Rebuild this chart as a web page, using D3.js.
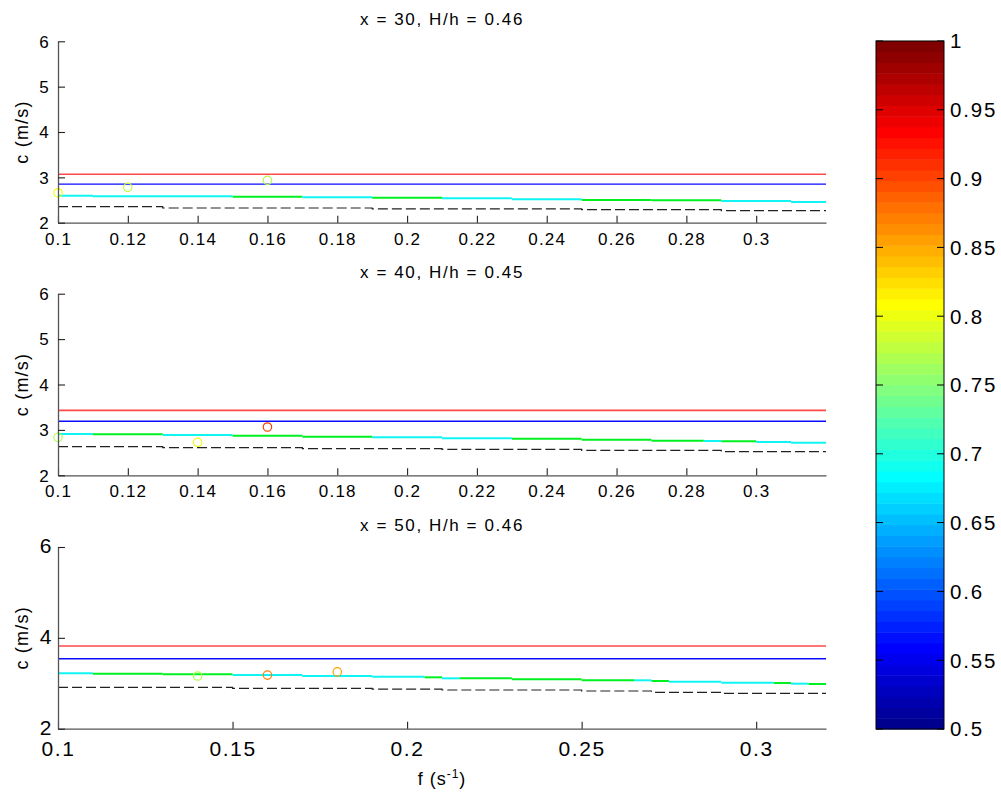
<!DOCTYPE html>
<html>
<head>
<meta charset="utf-8">
<script src="https://cdn.jsdelivr.net/npm/d3@7"></script>
<style>
  body { margin: 0; background: #fff; }
  svg text { font-family: "Liberation Sans", Arial, Helvetica, sans-serif; fill: #000; }
</style>
</head>
<body>
<svg id="chart" width="1001" height="796"></svg>
<script>
// ---------- data ----------
const panelTitles = ["x = 30, H/h = 0.46", "x = 40, H/h = 0.45", "x = 50, H/h = 0.46"];
const fDomain = [0.1, 0.32];
const cDomain = [2, 6];
const xTicksFine = [0.1, 0.12, 0.14, 0.16, 0.18, 0.2, 0.22, 0.24, 0.26, 0.28, 0.3];
const xTicksCoarse = [0.1, 0.15, 0.2, 0.25, 0.3];
const yTicksFine = [2, 3, 4, 5, 6];
const yTicksCoarse = [2, 4, 6];
const colorDomain = [0.5, 1];
const colorTicks = [0.5, 0.55, 0.6, 0.65, 0.7, 0.75, 0.8, 0.85, 0.9, 0.95, 1];

// constant reference speeds per station
const redLevel = [3.07, 3.43, 3.82];
const blueLevel = [2.85, 3.19, 3.54];

// coloured dispersion curve: breakpoints in f, speed on each interval, colour class of each interval
const curveF30 = [0.10, 0.11, 0.15, 0.17, 0.19, 0.21, 0.23, 0.25, 0.27, 0.29, 0.31, 0.32];
const curveC30 = [2.596, 2.581, 2.574, 2.559, 2.552, 2.537, 2.515, 2.500, 2.493, 2.478, 2.456];
const curveK30 = ["c", "c", "g", "c", "g", "c", "c", "g", "g", "c", "c"];

const curveF40 = [0.10, 0.11, 0.13, 0.15, 0.17, 0.19, 0.21, 0.23, 0.25, 0.27, 0.285, 0.29, 0.30, 0.31, 0.32];
const curveC40 = [2.910, 2.902, 2.888, 2.873, 2.851, 2.836, 2.814, 2.807, 2.785, 2.763, 2.756, 2.748, 2.733, 2.719];
const curveK40 = ["c", "g", "c", "g", "g", "c", "c", "g", "g", "g", "c", "g", "c", "c"];

const curveF50 = [0.10, 0.11, 0.13, 0.15, 0.17, 0.19, 0.205, 0.21, 0.215, 0.23, 0.25, 0.265, 0.27, 0.275, 0.29, 0.305, 0.31, 0.315, 0.32];
const curveC50 = [3.219, 3.211, 3.197, 3.182, 3.160, 3.145, 3.131, 3.109, 3.109, 3.087, 3.065, 3.065, 3.050, 3.035, 3.013, 3.006, 2.991, 2.984];
const curveK50 = ["c", "g", "g", "c", "c", "c", "g", "c", "g", "g", "g", "c", "g", "c", "c", "g", "c", "g"];

// dashed reference curve: breakpoints in f and speed on each interval
const dashF30 = [0.10, 0.13, 0.19, 0.25, 0.29, 0.32];
const dashC30 = [2.353, 2.324, 2.306, 2.287, 2.265];
const dashF40 = [0.10, 0.13, 0.17, 0.21, 0.25, 0.29, 0.32];
const dashC40 = [2.631, 2.609, 2.587, 2.572, 2.550, 2.520];
const dashF50 = [0.10, 0.15, 0.19, 0.21, 0.25, 0.27, 0.29, 0.32];
const dashC50 = [2.911, 2.889, 2.870, 2.852, 2.830, 2.801, 2.779];

// measured points: frequency, speed, colour value
const pointF30 = [0.10, 0.12, 0.16];
const pointC30 = [2.66, 2.78, 2.935];
const pointV30 = [0.80, 0.78, 0.77];
const pointF40 = [0.10, 0.14, 0.16];
const pointC40 = [2.837, 2.727, 3.064];
const pointV40 = [0.77, 0.80, 0.90];
const pointF50 = [0.14, 0.16, 0.18];
const pointC50 = [3.16, 3.18, 3.25];
const pointV50 = [0.77, 0.87, 0.855];

// ---------- assembling panels ----------
function intervals(F, C, K) {
  return C.map((c, i) => ({ f0: F[i], f1: F[i + 1], c, k: K ? K[i] : null }));
}
const panels = [
  { title: panelTitles[0], curve: intervals(curveF30, curveC30, curveK30), dash: { F: dashF30, C: dashC30 },
    pts: pointF30.map((f, i) => ({ f, c: pointC30[i], v: pointV30[i] })), red: redLevel[0], blue: blueLevel[0] },
  { title: panelTitles[1], curve: intervals(curveF40, curveC40, curveK40), dash: { F: dashF40, C: dashC40 },
    pts: pointF40.map((f, i) => ({ f, c: pointC40[i], v: pointV40[i] })), red: redLevel[1], blue: blueLevel[1] },
  { title: panelTitles[2], curve: intervals(curveF50, curveC50, curveK50), dash: { F: dashF50, C: dashC50 },
    pts: pointF50.map((f, i) => ({ f, c: pointC50[i], v: pointV50[i] })), red: redLevel[2], blue: blueLevel[2] }
];

// ---------- layout ----------
const svg = d3.select("#chart");
const plotLeft = 58, plotRight = 826;
const panelBoxes = [
  { top: 41.3, bottom: 222.7, xt: xTicksFine, yt: yTicksFine, fs: 17, ls: 1.2, ylabPad: 8, xlabPad: 10, ydy: "0.34em" },
  { top: 293.7, bottom: 475.3, xt: xTicksFine, yt: yTicksFine, fs: 17, ls: 1.2, ylabPad: 8, xlabPad: 10, ydy: "0.34em" },
  { top: 547, bottom: 728.7, xt: xTicksCoarse, yt: yTicksCoarse, fs: 21, ls: 1.6, ylabPad: 5, xlabPad: 12, ydy: "0.28em" }
];

// MATLAB-style jet colormap, 64 levels
function jet64(i) {
  const v = (i + 1) / 64;
  const cl = t => Math.max(0, Math.min(1, t));
  return d3.rgb(255 * cl(1.5 - Math.abs(4 * v - 3)),
                255 * cl(1.5 - Math.abs(4 * v - 2)),
                255 * cl(1.5 - Math.abs(4 * v - 1))).formatHex();
}
const jetColors = d3.range(64).map(jet64);
const colorScale = d3.scaleQuantize().domain(colorDomain).range(jetColors);
const curveColor = d3.scaleOrdinal().domain(["c", "g"]).range(["#10f4f4", "#00f020"]);

const x = d3.scaleLinear().domain(fDomain).range([plotLeft, plotRight]);

panels.forEach((p, idx) => {
  const box = panelBoxes[idx];
  const y = d3.scaleLinear().domain(cDomain).range([box.bottom, box.top]);
  const g = svg.append("g");

  // horizontal reference levels
  g.append("line").attr("x1", x(fDomain[0])).attr("x2", x(fDomain[1]))
    .attr("y1", y(p.red)).attr("y2", y(p.red))
    .attr("stroke", "#ff4848").attr("stroke-width", 1.6);
  g.append("line").attr("x1", x(fDomain[0])).attr("x2", x(fDomain[1]))
    .attr("y1", y(p.blue)).attr("y2", y(p.blue))
    .attr("stroke", "#0a0aff").attr("stroke-width", 1.3);

  // dashed curve as a step line
  const dashPts = p.dash.F.map((f, i) => [f, p.dash.C[Math.min(i, p.dash.C.length - 1)]]);
  g.append("path")
    .attr("d", d3.line().x(d => x(d[0])).y(d => y(d[1])).curve(d3.curveStepAfter)(dashPts))
    .attr("fill", "none").attr("stroke", "#222").attr("stroke-width", 1.2)
    .attr("stroke-dasharray", "10,4");

  // coloured curve intervals
  g.selectAll("line.seg").data(p.curve).join("line").attr("class", "seg")
    .attr("x1", d => x(d.f0)).attr("x2", d => x(d.f1))
    .attr("y1", d => y(d.c)).attr("y2", d => y(d.c))
    .attr("stroke", d => curveColor(d.k)).attr("stroke-width", 2);

  // measured points
  g.selectAll("circle").data(p.pts).join("circle")
    .attr("cx", d => x(d.f)).attr("cy", d => y(d.c)).attr("r", 4.2)
    .attr("fill", "none").attr("stroke", d => colorScale(d.v)).attr("stroke-width", 1.2);

  // axes (left and bottom only, ticks pointing inward)
  const ax = g.append("g").attr("transform", `translate(0,${box.bottom})`)
    .call(d3.axisBottom(x).tickValues(box.xt).tickFormat(d3.format("~g"))
      .tickSizeInner(-7).tickSizeOuter(0).tickPadding(box.xlabPad));
  const ay = g.append("g").attr("transform", `translate(${plotLeft},0)`)
    .call(d3.axisLeft(y).tickValues(box.yt).tickFormat(d3.format("d"))
      .tickSizeInner(-7).tickSizeOuter(0).tickPadding(box.ylabPad));
  ay.selectAll(".tick text").attr("dy", box.ydy);
  [ax, ay].forEach(a => {
    a.select(".domain").attr("stroke", "#555").attr("stroke-width", 1.3);
    a.selectAll(".tick line").attr("stroke", "#222").attr("stroke-width", 1.1);
    a.selectAll(".tick text").attr("font-size", box.fs).style("letter-spacing", box.ls + "px")
      .attr("font-family", "Liberation Sans, Arial, sans-serif").attr("fill", "#000");
  });

  // title
  g.append("text").attr("x", (plotLeft + plotRight) / 2).attr("y", box.top - 16)
    .attr("text-anchor", "middle").attr("font-size", 17).style("letter-spacing", "1.6px")
    .text(p.title);

  // y label
  g.append("text")
    .attr("transform", `translate(28,${(box.top + box.bottom) / 2}) rotate(-90)`)
    .attr("text-anchor", "middle").attr("font-size", 18).style("letter-spacing", "1.2px")
    .text("c (m/s)");
});

// x label with superscript
const xl = svg.append("text").attr("x", (plotLeft + plotRight) / 2).attr("y", 785)
  .attr("text-anchor", "middle").attr("font-size", 18).style("letter-spacing", "1px");
xl.append("tspan").text("f (s");
xl.append("tspan").attr("font-size", 12).attr("dy", -7).text("-1");
xl.append("tspan").attr("dy", 7).text(")");

// ---------- colorbar ----------
const cbLeft = 876, cbRight = 944, cbTop = 41, cbBottom = 729;
const cy = d3.scaleLinear().domain(colorDomain).range([cbBottom, cbTop]);
const cb = svg.append("g");
const step = (colorDomain[1] - colorDomain[0]) / 64;
cb.selectAll("rect.band").data(jetColors).join("rect").attr("class", "band")
  .attr("x", cbLeft).attr("width", cbRight - cbLeft)
  .attr("y", (d, i) => cy(colorDomain[0] + (i + 1) * step))
  .attr("height", (d, i) => cy(colorDomain[0] + i * step) - cy(colorDomain[0] + (i + 1) * step) + 0.5)
  .attr("fill", d => d);
cb.append("rect").attr("x", cbLeft).attr("y", cbTop).attr("width", cbRight - cbLeft)
  .attr("height", cbBottom - cbTop).attr("fill", "none").attr("stroke", "#000").attr("stroke-width", 1);
// ticks on both edges
cb.selectAll("line.tl").data(colorTicks).join("line").attr("class", "tl")
  .attr("x1", cbLeft).attr("x2", cbLeft + 7).attr("y1", d => cy(d)).attr("y2", d => cy(d))
  .attr("stroke", "#000");
cb.selectAll("line.tr").data(colorTicks).join("line").attr("class", "tr")
  .attr("x1", cbRight - 7).attr("x2", cbRight).attr("y1", d => cy(d)).attr("y2", d => cy(d))
  .attr("stroke", "#000");
cb.selectAll("text").data(colorTicks).join("text")
  .attr("x", cbRight + 6).attr("y", d => cy(d)).attr("dy", "0.36em")
  .attr("font-size", 20.5).style("letter-spacing", "1.8px")
  .text(d3.format("~g"));
</script>
</body>
</html>
